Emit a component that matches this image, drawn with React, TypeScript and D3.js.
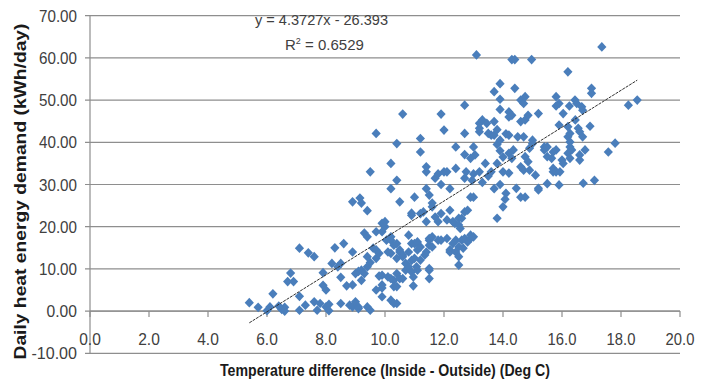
import * as d3 from "d3";
import React from "react";

// daily readings: [temperature difference (deg C), heat demand (kWh/day)]
const readings: [number, number][] = [
  [5.4, 2.0], [5.7, 0.9], [6.0, 0.1], [6.1, 1.0], [6.2, 4.1], [6.4, 1.2], [6.5, 0.4], [6.6, 0.9],
  [6.6, 0.0], [6.7, 7.0], [6.8, 9.0], [6.9, 7.0], [7.1, 3.5], [7.1, 0.2], [7.1, 14.9], [7.3, 1.4],
  [7.4, 13.8], [7.6, 12.9], [7.6, 2.2], [7.7, 0.2], [7.8, 1.8], [7.9, 9.1], [7.9, 6.1], [8.0, 5.0],
  [8.0, 1.0], [8.1, 1.6], [8.1, 0.1], [8.2, 11.3], [8.3, 15.0], [8.4, 10.5], [8.5, 11.3], [8.5, 8.0],
  [8.5, 1.8], [8.6, 16.0], [8.7, 6.0], [8.8, 1.4], [8.9, 14.0], [8.9, 6.2], [8.9, 25.9], [8.9, 1.0],
  [9.0, 2.2], [9.0, 8.9], [9.1, 1.0], [9.1, 0.6], [9.1, 9.4], [9.15, 26.8], [9.2, 9.7], [9.2, 25.6],
  [9.2, 7.3], [9.3, 8.9], [9.3, 18.5], [9.4, 17.6], [9.4, 12.9], [9.4, 10.5], [9.4, 23.8], [9.4, 1.0],
  [9.5, 0.2], [9.5, 11.5], [9.5, 33.0], [9.6, 14.9],
  [9.7, 12.5], [9.7, 5.0], [9.7, 14.5], [9.7, 42.1], [9.7, 18.8], [9.8, 8.3], [9.8, 13.7], [9.9, 8.5],
  [9.9, 6.2], [9.9, 5.5], [9.9, 20.8], [9.9, 18.8], [9.9, 3.4], [10.0, 21.2], [10.0, 20.0], [10.05, 16.8],
  [10.1, 8.1], [10.1, 14.0], [10.2, 17.6], [10.2, 13.7], [10.2, 7.7], [10.2, 35.0], [10.2, 29.0], [10.2, 2.6],
  [10.2, 16.8], [10.3, 7.3], [10.3, 5.8], [10.3, 15.6], [10.3, 1.8], [10.4, 16.0], [10.4, 12.5], [10.4, 8.9],
  [10.4, 5.8], [10.4, 1.8], [10.4, 39.7], [10.4, 31.0], [10.5, 14.5], [10.5, 7.7], [10.5, 25.9], [10.5, 14.0],
  [10.6, 13.3], [10.6, 12.9], [10.6, 46.7], [10.6, 7.7], [10.7, 9.7], [10.7, 11.3], [10.8, 10.5], [10.8, 18.0],
  [10.8, 14.0], [10.9, 12.0], [10.9, 16.0], [10.9, 9.3], [10.9, 22.7], [10.9, 23.2], [10.96, 8.1], [10.96, 6.0],
  [11.0, 16.0], [11.0, 12.5], [11.0, 27.0],
  [11.07, 10.5], [11.1, 9.7], [11.1, 16.4], [11.1, 14.5], [11.2, 40.9], [11.2, 37.7], [11.2, 15.2], [11.2, 12.1],
  [11.2, 23.1], [11.3, 23.5], [11.35, 13.3], [11.4, 34.2], [11.4, 21.2], [11.4, 14.0], [11.4, 29.0], [11.4, 33.0],
  [11.5, 27.5], [11.5, 15.6], [11.5, 16.8], [11.5, 10.1], [11.5, 7.7], [11.5, 9.7], [11.5, 17.2], [11.6, 25.6],
  [11.6, 24.7], [11.6, 17.6], [11.6, 15.2], [11.7, 22.3], [11.7, 31.5], [11.8, 21.2], [11.8, 16.8], [11.8, 32.5],
  [11.9, 46.7], [11.9, 30.0], [11.9, 23.1], [11.9, 16.8], [12.0, 33.0], [12.0, 42.9], [12.1, 21.6], [12.1, 17.2],
  [12.1, 33.0], [12.2, 23.9], [12.2, 29.0], [12.2, 14.5], [12.2, 14.0], [12.3, 16.0], [12.3, 21.2], [12.37, 20.8],
  [12.4, 33.8], [12.4, 16.8], [12.4, 14.0], [12.4, 38.9], [12.5, 22.0], [12.5, 20.4], [12.5, 15.2], [12.5, 10.9],
  [12.5, 12.9], [12.55, 19.6], [12.6, 16.8], [12.6, 22.0],
  [12.65, 14.9], [12.7, 17.2], [12.7, 23.5], [12.7, 48.8], [12.7, 42.1], [12.7, 37.1], [12.7, 31.5], [12.75, 33.0],
  [12.8, 16.4], [12.8, 23.9], [12.9, 17.2], [12.9, 18.0], [12.9, 27.0], [12.9, 36.2], [12.95, 31.0], [13.0, 38.9],
  [13.0, 17.6], [13.0, 27.0], [13.05, 37.0], [13.0, 32.5], [13.1, 60.7], [13.2, 44.5], [13.2, 42.5], [13.2, 33.0],
  [13.2, 43.3], [13.3, 45.3], [13.3, 30.5], [13.4, 35.0], [13.45, 44.5], [13.5, 42.1], [13.5, 32.0], [13.6, 41.7],
  [13.6, 33.0], [13.7, 44.9], [13.7, 41.7], [13.7, 52.0], [13.7, 29.0], [13.8, 43.0], [13.8, 22.0], [13.8, 39.5],
  [13.8, 35.0], [13.9, 53.9], [13.9, 50.2], [13.9, 47.8], [13.9, 38.0], [13.9, 40.5], [13.9, 30.0], [14.0, 24.7],
  [14.0, 33.0], [14.0, 36.5], [14.07, 26.5], [14.1, 27.9], [14.1, 42.0], [14.2, 46.0], [14.2, 47.2], [14.2, 32.7],
  [14.2, 37.4], [14.2, 41.7],
  [14.3, 59.6], [14.3, 46.4], [14.3, 36.2], [14.35, 38.2], [14.4, 59.6], [14.4, 52.8], [14.45, 29.1], [14.5, 41.3],
  [14.6, 50.0], [14.6, 44.9], [14.6, 27.0], [14.6, 34.2], [14.7, 49.2], [14.7, 41.3], [14.7, 33.4], [14.75, 50.8],
  [14.75, 45.3], [14.75, 36.6], [14.75, 27.0], [14.85, 46.4], [14.85, 35.4], [14.9, 33.4], [14.9, 38.6], [14.97, 59.6],
  [15.0, 40.5], [15.0, 39.7], [15.1, 32.2], [15.2, 46.8], [15.2, 29.1], [15.2, 28.7], [15.4, 38.9], [15.4, 38.2],
  [15.5, 38.9], [15.5, 36.6], [15.5, 30.2], [15.65, 36.2], [15.7, 37.7], [15.7, 33.8], [15.7, 33.0], [15.8, 50.8],
  [15.8, 48.6], [15.8, 38.2], [15.8, 33.0], [15.9, 49.2], [15.9, 44.1], [15.9, 29.9], [15.93, 33.0], [16.0, 35.8],
  [16.04, 46.8], [16.04, 35.0], [16.2, 56.7], [16.2, 43.7], [16.2, 41.3], [16.2, 37.4], [16.25, 48.6], [16.27, 42.1],
  [16.27, 38.9], [16.27, 36.2], [16.27, 40.1], [16.33, 38.2], [16.44, 50.0], [16.45, 45.3], [16.5, 49.2], [16.55, 43.3],
  [16.6, 42.5], [16.6, 37.0], [16.6, 35.8], [16.67, 48.4], [16.7, 47.6], [16.7, 41.3], [16.72, 30.3], [16.78, 38.2],
  [16.95, 43.8], [17.0, 52.8], [17.0, 51.6], [17.1, 31.0], [17.35, 62.6], [17.57, 37.7], [17.8, 39.8], [18.25, 48.8],
  [18.55, 50.0],
];

const xTicks = [0, 2, 4, 6, 8, 10, 12, 14, 16, 18, 20];
const yTicks = [-10, 0, 10, 20, 30, 40, 50, 60, 70];

const trendSlope = 4.3727;
const trendIntercept = -26.393;
const rSquared = 0.6529;

const W = 711;
const H = 380;
const font = "'Liberation Sans Narrow', 'Liberation Sans', sans-serif";
const gridColor = "#8e8e8e";
const labelColor = "#404040";

export default function App() {
  const x = d3.scaleLinear().domain([0, 20]).range([90, 680]);
  const y = d3.scaleLinear().domain([-10, 70]).range([353.3, 15.7]);

  const diamond = d3.symbol(d3.symbolDiamond2, 60)();

  const [xMin, xMax] = d3.extent(readings, (d) => d[0]) as [number, number];
  const trend = d3
    .line<number>()
    .x((v) => x(v))
    .y((v) => y(trendSlope * v + trendIntercept))([xMin, xMax]);

  return (
    <svg
      width={W}
      height={H}
      style={{ position: "absolute", left: 0, top: 0, background: "#fff" }}
    >
      {/* horizontal gridlines + y ticks */}
      {yTicks.map((t) => {
        const label = t.toFixed(2);
        return (
          <g key={"gy" + t}>
            <line x1={85} x2={680} y1={y(t)} y2={y(t)} stroke={gridColor} strokeWidth={1.2} />
            <text
              x={77}
              y={y(t) + 6}
              textAnchor="end"
              fontFamily={font}
              fontSize={17}
              fill={labelColor}
              textLength={label.length * 7.6}
              lengthAdjust="spacingAndGlyphs"
            >
              {label}
            </text>
          </g>
        );
      })}

      {/* y axis line */}
      <line x1={90} x2={90} y1={y(70)} y2={y(-10)} stroke={gridColor} strokeWidth={1.2} />

      {/* x axis crosses at zero */}
      <line x1={90} x2={680} y1={y(0)} y2={y(0)} stroke={gridColor} strokeWidth={1.2} />
      {xTicks.map((t) => {
        const label = t.toFixed(1);
        return (
          <g key={"gx" + t}>
            <line x1={x(t)} x2={x(t)} y1={y(0)} y2={y(0) + 6} stroke={gridColor} strokeWidth={1.2} />
            <text
              x={x(t)}
              y={y(0) + 34}
              textAnchor="middle"
              fontFamily={font}
              fontSize={17}
              fill={labelColor}
              textLength={label.length * 7.2}
              lengthAdjust="spacingAndGlyphs"
            >
              {label}
            </text>
          </g>
        );
      })}

      {/* points */}
      <g fill="#4a7ebb">
        {readings.map((d, i) => (
          <path key={i} d={diamond!} transform={`translate(${x(d[0])},${y(d[1])}) scale(0.95,1)`} />
        ))}
      </g>

      {/* linear trendline */}
      <path d={trend!} fill="none" stroke="#303030" strokeWidth={1} strokeDasharray="3,1" />

      {/* equation */}
      <text
        x={255}
        y={25}
        fontFamily={font}
        fontSize={15}
        fill={labelColor}
        textLength={133}
        lengthAdjust="spacingAndGlyphs"
      >
        {`y = ${trendSlope}x - ${Math.abs(trendIntercept)}`}
      </text>
      <text x={285} y={50} fontFamily={font} fontSize={15} fill={labelColor}>
        R
        <tspan fontSize={9} dy={-6}>
          2
        </tspan>
        <tspan dy={6}>{` = ${rSquared}`}</tspan>
      </text>

      {/* axis titles */}
      <text
        transform={`translate(26,${(23 + 360) / 2}) rotate(-90)`}
        textAnchor="middle"
        fontFamily={font}
        fontSize={16}
        fontWeight="bold"
        fill="#1a1a1a"
        textLength={336}
        lengthAdjust="spacingAndGlyphs"
      >
        Daily heat energy demand (kWh/day)
      </text>
      <text
        x={385}
        y={376}
        textAnchor="middle"
        fontFamily={font}
        fontSize={17}
        fontWeight="bold"
        fill="#1a1a1a"
        textLength={330}
        lengthAdjust="spacingAndGlyphs"
      >
        Temperature difference (Inside - Outside) (Deg C)
      </text>
    </svg>
  );
}
